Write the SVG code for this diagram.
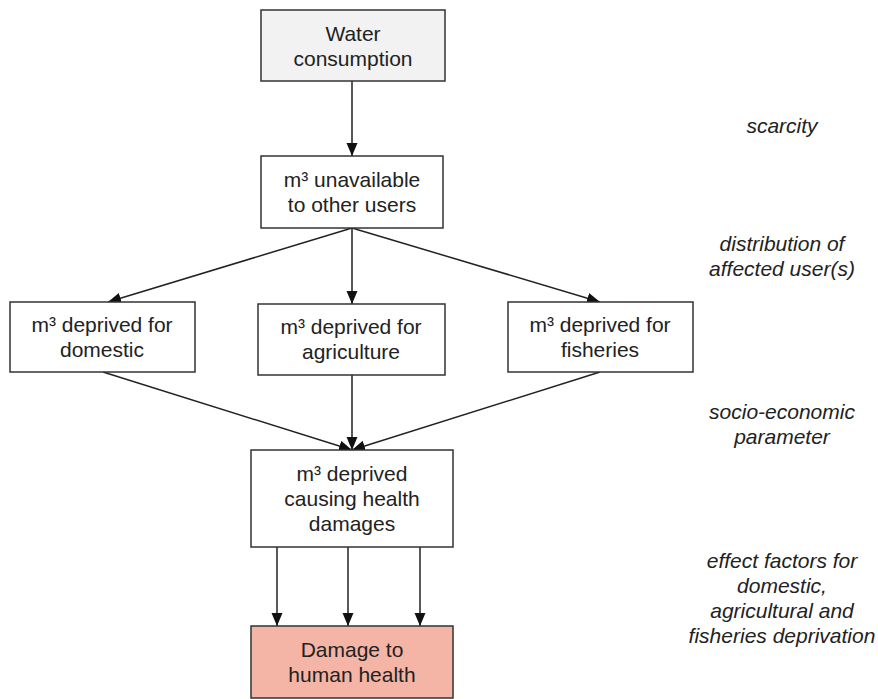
<svg xmlns="http://www.w3.org/2000/svg" width="878" height="699" viewBox="0 0 878 699">
<style>
.box{fill:#ffffff;stroke:#333333;stroke-width:1.5}
.t{font-family:"Liberation Sans",Arial,sans-serif;font-size:21px;fill:#222222;text-anchor:middle}
.side{font-family:"Liberation Sans",Arial,sans-serif;font-size:21px;font-style:italic;fill:#222222;text-anchor:middle}
.c{stroke:#222222;stroke-width:1.5;fill:none;marker-end:url(#ah)}
</style>
<defs>
<marker id="ah" markerUnits="userSpaceOnUse" markerWidth="14" markerHeight="12" refX="13" refY="5.5" orient="auto">
<path d="M0,0 L13,5.5 L0,11 z" fill="#111111"/>
</marker>
</defs>
<rect width="878" height="699" fill="#ffffff"/>
<g id="connectors">
<line class="c" x1="352" y1="81" x2="352" y2="156"/>
<line class="c" x1="352" y1="228" x2="108" y2="302"/>
<line class="c" x1="352" y1="228" x2="352" y2="304"/>
<line class="c" x1="352" y1="228" x2="600" y2="302"/>
<line class="c" x1="103" y1="372" x2="352" y2="450"/>
<line class="c" x1="352" y1="375" x2="352" y2="450"/>
<line class="c" x1="600" y1="372" x2="352" y2="450"/>
<line class="c" x1="277" y1="547" x2="277" y2="626"/>
<line class="c" x1="348" y1="547" x2="348" y2="626"/>
<line class="c" x1="420" y1="547" x2="420" y2="626"/>
</g>
<g id="water">
<rect class="box" x="261" y="10" width="184" height="71" style="fill:#f2f2f2"/>
<text class="t" x="353" y="41">Water</text>
<text class="t" x="353" y="66">consumption</text>
</g>
<g id="unavailable">
<rect class="box" x="261" y="156" width="182" height="72"/>
<text class="t" x="352" y="187">m³ unavailable</text>
<text class="t" x="352" y="212">to other users</text>
</g>
<g id="domestic">
<rect class="box" x="10" y="302" width="185" height="70"/>
<text class="t" x="102" y="332">m³ deprived for</text>
<text class="t" x="102" y="357">domestic</text>
</g>
<g id="agriculture">
<rect class="box" x="258" y="304" width="187" height="71"/>
<text class="t" x="351" y="334">m³ deprived for</text>
<text class="t" x="351" y="359">agriculture</text>
</g>
<g id="fisheries">
<rect class="box" x="508" y="302" width="185" height="70"/>
<text class="t" x="600" y="332">m³ deprived for</text>
<text class="t" x="600" y="357">fisheries</text>
</g>
<g id="health-deprived">
<rect class="box" x="251" y="450" width="202" height="97"/>
<text class="t" x="352" y="481">m³ deprived</text>
<text class="t" x="352" y="506">causing health</text>
<text class="t" x="352" y="531">damages</text>
</g>
<g id="damage">
<rect class="box" x="251" y="626" width="202" height="72" style="fill:#f4b4a6"/>
<text class="t" x="352" y="657">Damage to</text>
<text class="t" x="352" y="682">human health</text>
</g>
<g id="labels">
<text class="side" x="782" y="133">scarcity</text>
<text class="side" x="782" y="251">distribution of</text>
<text class="side" x="782" y="276">affected user(s)</text>
<text class="side" x="782" y="419">socio-economic</text>
<text class="side" x="782" y="444">parameter</text>
<text class="side" x="782" y="568">effect factors for</text>
<text class="side" x="782" y="593">domestic,</text>
<text class="side" x="782" y="618">agricultural and</text>
<text class="side" x="782" y="643">fisheries deprivation</text>
</g>
</svg>
